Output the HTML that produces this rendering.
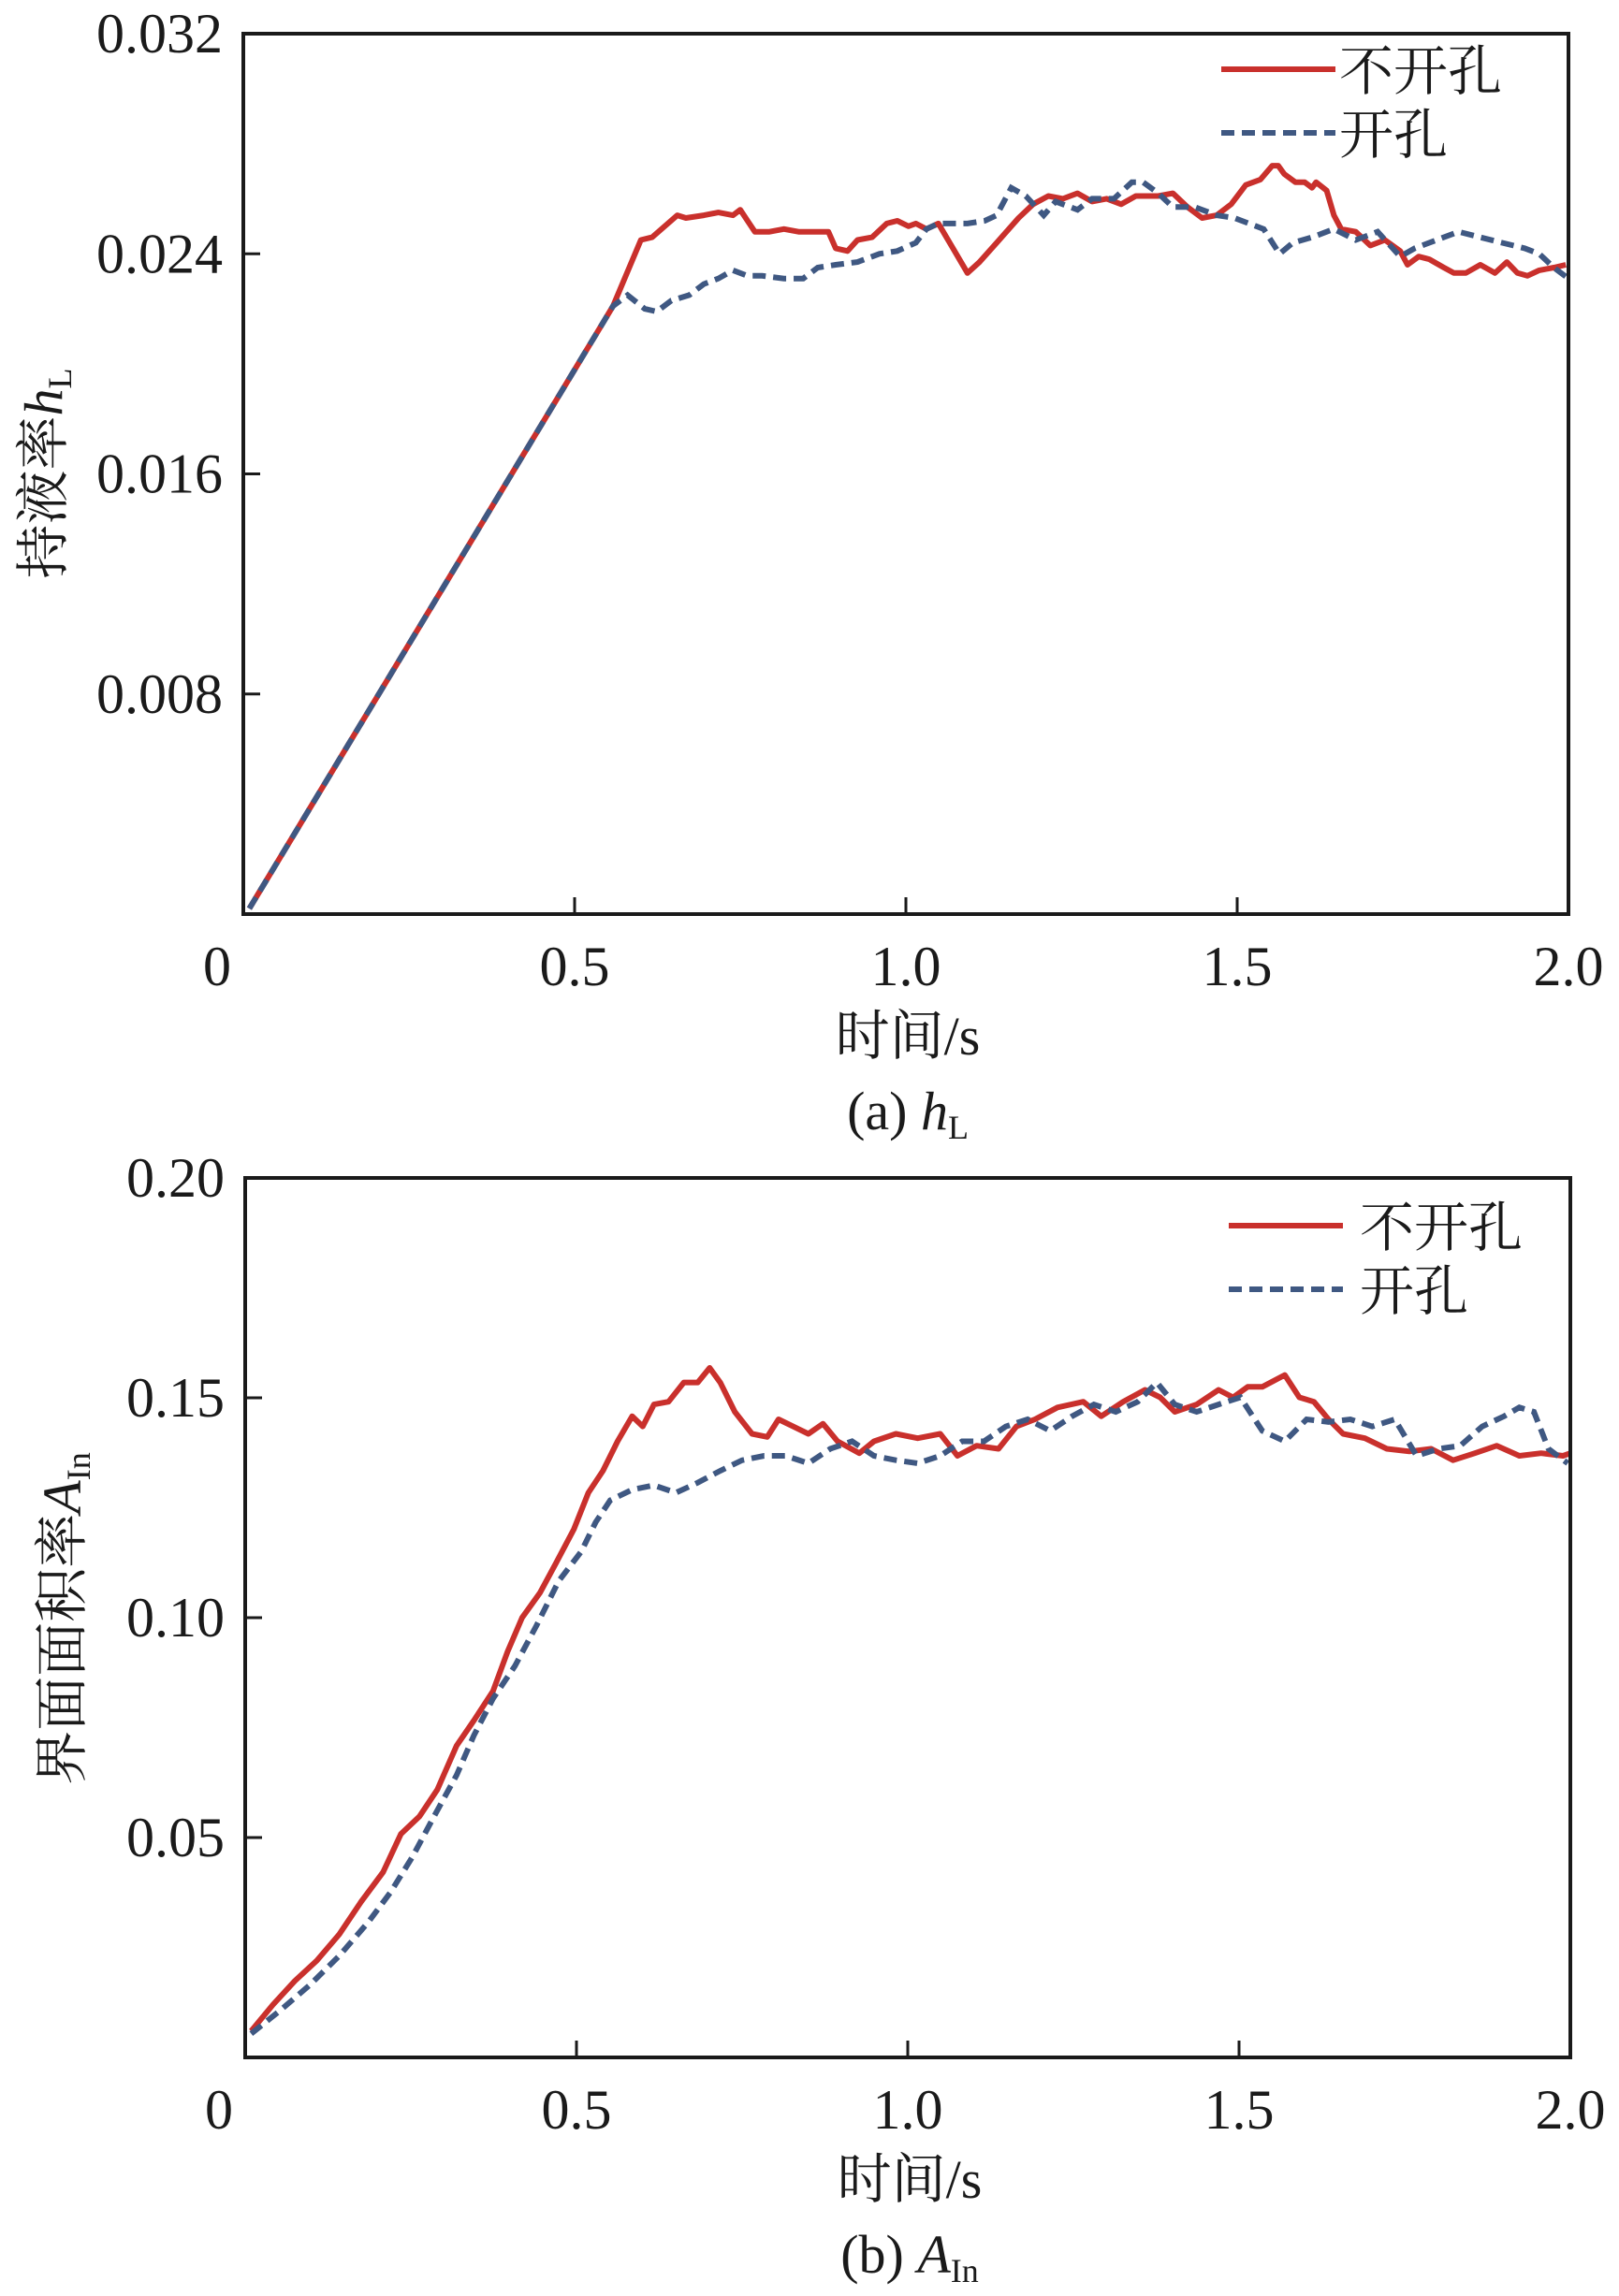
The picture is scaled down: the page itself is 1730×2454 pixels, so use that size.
<!DOCTYPE html>
<html><head><meta charset="utf-8">
<style>
html,body{margin:0;padding:0;background:#fff;}
svg{display:block;}
text{font-family:"Liberation Serif","Noto Serif CJK SC","Noto Sans CJK SC",serif;fill:#1a1a1a;}
</style></head>
<body>
<svg id="fig" width="1730" height="2454" viewBox="0 0 1730 2454" xmlns="http://www.w3.org/2000/svg"></svg>
<script>
// ---- Chart (a) data ----
const xTicks = [0, 0.5, 1.0, 1.5, 2.0];
const xTickLabels = ["0", "0.5", "1.0", "1.5", "2.0"];
const aTicks = [0.008, 0.016, 0.024, 0.032];
const aTickLabels = ["0.008", "0.016", "0.024", "0.032"];
const aRedT = [0.009,0.558,0.600,0.617,0.655,0.668,0.695,0.717,0.739,0.750,0.761,0.772,0.794,0.816,0.838,0.861,0.883,0.894,0.912,0.927,0.949,0.971,0.987,1.004,1.015,1.031,1.049,1.071,1.093,1.111,1.137,1.170,1.192,1.215,1.237,1.259,1.281,1.303,1.325,1.347,1.381,1.403,1.425,1.447,1.469,1.491,1.513,1.535,1.553,1.562,1.571,1.588,1.602,1.613,1.619,1.635,1.646,1.657,1.679,1.701,1.723,1.746,1.757,1.774,1.790,1.812,1.827,1.845,1.867,1.889,1.907,1.923,1.938,1.956,1.978,1.996];
const aRedV = [0.0002,0.0221,0.0245,0.0246,0.0254,0.0253,0.0254,0.0255,0.0254,0.0256,0.0252,0.0248,0.0248,0.0249,0.0248,0.0248,0.0248,0.0242,0.0241,0.0245,0.0246,0.0251,0.0252,0.0250,0.0251,0.0249,0.0251,0.0242,0.0233,0.0237,0.0244,0.0253,0.0258,0.0261,0.0260,0.0262,0.0259,0.0260,0.0258,0.0261,0.0261,0.0262,0.0257,0.0253,0.0254,0.0258,0.0265,0.0267,0.0272,0.0272,0.0269,0.0266,0.0266,0.0264,0.0266,0.0263,0.0254,0.0249,0.0248,0.0243,0.0245,0.0241,0.0236,0.0239,0.0238,0.0235,0.0233,0.0233,0.0236,0.0233,0.0237,0.0233,0.0232,0.0234,0.0235,0.0236];
const aBlueT = [0.009,0.558,0.580,0.606,0.624,0.646,0.673,0.695,0.717,0.739,0.761,0.783,0.816,0.845,0.867,0.894,0.927,0.960,0.987,1.015,1.031,1.049,1.093,1.119,1.137,1.159,1.181,1.208,1.226,1.259,1.281,1.314,1.341,1.358,1.381,1.403,1.436,1.469,1.496,1.518,1.540,1.564,1.584,1.613,1.646,1.679,1.712,1.746,1.768,1.801,1.834,1.867,1.900,1.934,1.956,1.978,2.0];
const aBlueV = [0.0002,0.0221,0.0225,0.0220,0.0219,0.0223,0.0225,0.0229,0.0231,0.0234,0.0232,0.0232,0.0231,0.0231,0.0235,0.0236,0.0237,0.0240,0.0241,0.0244,0.0249,0.0251,0.0251,0.0252,0.0254,0.0264,0.0261,0.0254,0.0259,0.0256,0.0260,0.0260,0.0266,0.0266,0.0262,0.0257,0.0257,0.0254,0.0253,0.0251,0.0249,0.0240,0.0244,0.0246,0.0249,0.0245,0.0248,0.0239,0.0242,0.0245,0.0248,0.0246,0.0244,0.0242,0.0240,0.0235,0.0231];
// ---- Chart (b) data ----
const bTicks = [0.05, 0.10, 0.15, 0.20];
const bTickLabels = ["0.05", "0.10", "0.15", "0.20"];
const bRedT = [0.009,0.042,0.075,0.108,0.142,0.175,0.208,0.235,0.263,0.290,0.319,0.345,0.374,0.396,0.418,0.445,0.469,0.496,0.518,0.540,0.562,0.584,0.600,0.617,0.639,0.662,0.683,0.701,0.717,0.739,0.765,0.788,0.805,0.827,0.850,0.872,0.894,0.927,0.949,0.982,1.015,1.049,1.075,1.104,1.137,1.164,1.192,1.226,1.265,1.292,1.325,1.358,1.381,1.403,1.436,1.469,1.491,1.513,1.535,1.569,1.591,1.613,1.635,1.657,1.690,1.723,1.757,1.790,1.823,1.856,1.889,1.923,1.956,1.989,2.0];
const bRedV = [0.006,0.012,0.0174,0.022,0.028,0.0354,0.0421,0.0508,0.0548,0.0609,0.0709,0.0766,0.0833,0.0923,0.100,0.1057,0.1124,0.1201,0.1284,0.1334,0.1401,0.1458,0.1435,0.1485,0.1491,0.1535,0.1535,0.1568,0.1535,0.1468,0.1418,0.1411,0.1451,0.1435,0.1418,0.1441,0.1401,0.1374,0.1401,0.1418,0.1408,0.1418,0.1368,0.1391,0.1384,0.1435,0.1451,0.1478,0.1491,0.1458,0.1491,0.1518,0.1501,0.1468,0.1485,0.1518,0.1501,0.1525,0.1525,0.1552,0.1501,0.1491,0.1451,0.1418,0.1408,0.1384,0.1378,0.1384,0.1358,0.1374,0.1391,0.1368,0.1374,0.1368,0.1374];
const bBlueT = [0.009,0.053,0.097,0.142,0.186,0.219,0.252,0.285,0.319,0.345,0.374,0.407,0.440,0.473,0.507,0.529,0.551,0.584,0.617,0.650,0.683,0.717,0.750,0.783,0.816,0.850,0.883,0.916,0.949,0.982,1.015,1.049,1.082,1.115,1.148,1.181,1.215,1.248,1.281,1.314,1.347,1.376,1.403,1.436,1.469,1.502,1.535,1.569,1.602,1.635,1.668,1.701,1.735,1.768,1.801,1.834,1.867,1.900,1.923,1.945,1.967,1.996];
const bBlueV = [0.0054,0.0107,0.0164,0.0231,0.0308,0.0375,0.0455,0.0548,0.0642,0.0732,0.0816,0.0890,0.0983,0.1083,0.1150,0.1217,0.1267,0.1291,0.1301,0.1284,0.1307,0.1334,0.1358,0.1368,0.1368,0.1351,0.1384,0.1401,0.1368,0.1358,0.1351,0.1368,0.1401,0.1401,0.1435,0.1451,0.1425,0.1458,0.1485,0.1468,0.1491,0.1535,0.1485,0.1468,0.1485,0.1501,0.1425,0.1401,0.1451,0.1445,0.1451,0.1435,0.1451,0.1368,0.1384,0.1391,0.1435,0.1458,0.1478,0.1468,0.1384,0.1351];

const NS = "http://www.w3.org/2000/svg";
const svg = document.getElementById("fig");
function mk(tag, attrs, parent){
  const e = document.createElementNS(NS, tag);
  for (const k in attrs) e.setAttribute(k, attrs[k]);
  (parent||svg).appendChild(e);
  return e;
}
const RED = "#c9302c", BLUE = "#3f5882";

function drawPanel(cfg){
  const g = mk("g", {});
  
  
  const L=cfg.L, R=cfg.R, T=cfg.T, B=cfg.B;
  const xs = t => L + (t/2.0)*(R-L);
  const ys = v => B - (v/cfg.ymax)*(B-T);
  const cid = cfg.name + "-clip";
  const defs = mk("defs", {}, g);
  const cp = mk("clipPath", {id: cid}, defs);
  mk("rect", {x:L, y:T, width:R-L, height:B-T}, cp);
  const path = (ts, vs) => ts.map((t,i)=>(i?"L":"M")+xs(t).toFixed(1)+","+ys(vs[i]).toFixed(1)).join(" ");
  const red = mk("path", {d: path(cfg.redT, cfg.redV), fill:"none", stroke:RED, "stroke-width":6, "stroke-linejoin":"round", "clip-path":"url(#"+cid+")"}, g);
  
  
  const blue = mk("path", {d: path(cfg.blueT, cfg.blueV), fill:"none", stroke:BLUE, "stroke-width":6, "stroke-dasharray":"14 8", "clip-path":"url(#"+cid+")"}, g);
  
  
  const fr = mk("rect", {x:L, y:T, width:R-L, height:B-T, fill:"none", stroke:"#1a1a1a", "stroke-width":4}, g);
  
  
  xTicks.forEach((t,i)=>{
    const x = xs(t);
    if (i>0 && i<xTicks.length-1) {
      const tk = mk("line", {x1:x, x2:x, y1:B, y2:B-18, stroke:"#1a1a1a", "stroke-width":3}, g);
      
      
    }
    const tx = mk("text", {x: i===0 ? x-28 : x, y: B+76, "font-size":60, "text-anchor":"middle"}, g);
    tx.textContent = xTickLabels[i];
    
    
  });
  cfg.yTicks.forEach((v,i)=>{
    const y = ys(v);
    if (i < cfg.yTicks.length-1) {
      const tk = mk("line", {x1:L, x2:L+18, y1:y, y2:y, stroke:"#1a1a1a", "stroke-width":3}, g);
      
      
    }
    const tx = mk("text", {x: L-22, y: y+20, "font-size":60, "text-anchor":"end"}, g);
    tx.textContent = cfg.yLabels[i];
    
    
  });
  const xt = mk("text", {x:(L+R)/2+2, y:B+150, "font-size":58, "text-anchor":"middle"}, g);
  xt.textContent = "时间/s";
  
  
  const cap = mk("text", {x:(L+R)/2+2, y:B+230, "font-size":58, "text-anchor":"middle"}, g);
  cap.innerHTML = cfg.caption;
  
  
  const yt = mk("text", {x:0, y:0, "font-size":58, "text-anchor":"middle", transform:"translate("+cfg.ytx+","+cfg.yty+") rotate(-90)"}, g);
  yt.innerHTML = cfg.ytitle;
  
  
  const lg = mk("g", {}, g);
  
  
  const l1 = mk("line", {x1:cfg.legX, x2:cfg.legX+122, y1:cfg.legY, y2:cfg.legY, stroke:RED, "stroke-width":6}, lg);
  
  
  const t1 = mk("text", {x:cfg.legX+cfg.legTx, y:cfg.legY+22, "font-size":58}, lg);
  t1.textContent = "不开孔";
  
  
  const l2 = mk("line", {x1:cfg.legX, x2:cfg.legX+122, y1:cfg.legY+68, y2:cfg.legY+68, stroke:BLUE, "stroke-width":6, "stroke-dasharray":"14 8"}, lg);
  
  
  const t2 = mk("text", {x:cfg.legX+cfg.legTx, y:cfg.legY+90, "font-size":58}, lg);
  t2.textContent = "开孔";
  
  
}

drawPanel({name:"chart-a-liquid-holdup", L:260, R:1676, T:36, B:977, ymax:0.032,
  yTicks:aTicks, yLabels:aTickLabels, redT:aRedT, redV:aRedV, blueT:aBlueT, blueV:aBlueV,
  caption:'(a) <tspan font-style="italic">h</tspan><tspan font-size="36" dy="10">L</tspan>',
  ytitle:'持液率<tspan font-style="italic">h</tspan><tspan font-size="36" dy="10">L</tspan>',
  ytx:66, yty:506, legX:1305, legY:74, legTx:126});
drawPanel({name:"chart-b-interface-area", L:262, R:1678, T:1259, B:2199, ymax:0.20,
  yTicks:bTicks, yLabels:bTickLabels, redT:bRedT, redV:bRedV, blueT:bBlueT, blueV:bBlueV,
  caption:'(b) <tspan font-style="italic">A</tspan><tspan font-size="36" dy="10">In</tspan>',
  ytitle:'界面面积率<tspan font-style="italic">A</tspan><tspan font-size="36" dy="10">In</tspan>',
  ytx:86, yty:1730, legX:1313, legY:1310, legTx:140});
</script>
</body></html>
